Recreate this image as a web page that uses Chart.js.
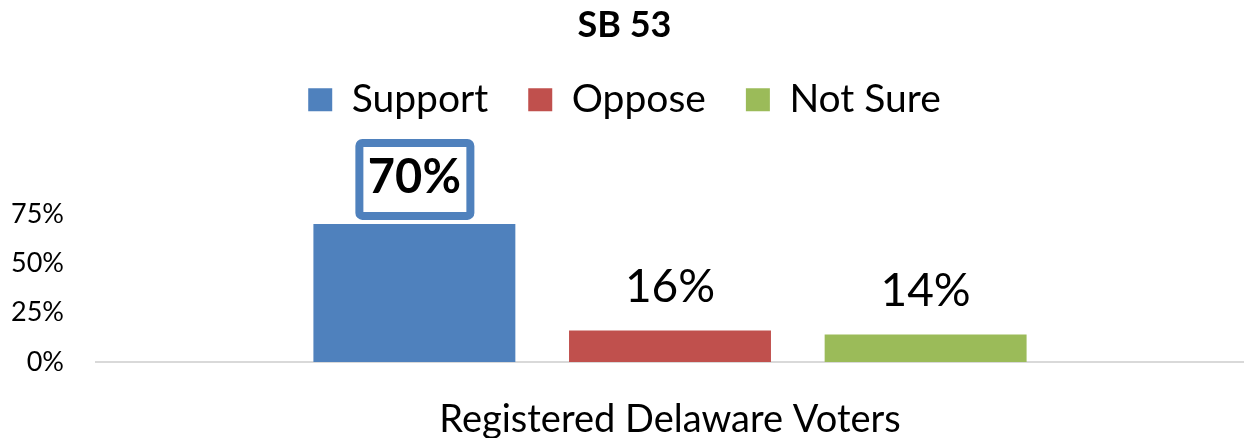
<!DOCTYPE html>
<html>
<head>
<meta charset="utf-8">
<script src="https://cdn.jsdelivr.net/npm/chart.js@4"></script>
<style>
  html, body { margin: 0; padding: 0; background: #fff; }
  #wrap { width: 1244px; height: 438px; }
</style>
</head>
<body>
<div id="wrap"><canvas id="myChart"></canvas></div>
<script>
// data
const categories = ['Registered Delaware Voters'];
const seriesNames = ['Support', 'Oppose', 'Not Sure'];
const supportValues = [70];
const opposeValues = [16];
const notSureValues = [14];
const yTickValues = [0, 25, 50, 75];

const colors = ['#4F81BD', '#C0504D', '#9BBB59'];

Chart.defaults.font.family = 'Lato';
Chart.defaults.color = '#000';

// value labels above the bars, first one bold in a blue box
const barLabels = {
  id: 'barLabels',
  afterDatasetsDraw(chart) {
    const ctx = chart.ctx;
    ctx.save();
    ctx.textAlign = 'center';
    ctx.textBaseline = 'middle';
    chart.data.datasets.forEach(function (ds, i) {
      const bar = chart.getDatasetMeta(i).data[0];
      const txt = ds.data[0] + '%';
      let cy = bar.y - 43;
      if (i == 0) {
        ctx.lineWidth = 8;
        ctx.strokeStyle = colors[0];
        ctx.fillStyle = '#fff';
        ctx.beginPath();
        ctx.roundRect(bar.x - 55, bar.y - 81, 111, 73, 3);
        ctx.fill();
        ctx.stroke();
        ctx.font = 'bold 47px Lato';
        cy = bar.y - 46;
      } else {
        ctx.font = '46px Lato';
      }
      ctx.fillStyle = '#000';
      ctx.fillText(txt, bar.x, cy);
    });
    ctx.restore();
  }
};

new Chart(document.getElementById('myChart'), {
  type: 'bar',
  data: {
    labels: categories,
    datasets: [
      { label: seriesNames[0], data: supportValues, backgroundColor: colors[0] },
      { label: seriesNames[1], data: opposeValues, backgroundColor: colors[1] },
      { label: seriesNames[2], data: notSureValues, backgroundColor: colors[2] }
    ]
  },
  options: {
    responsive: true,
    maintainAspectRatio: false,
    animation: false,
    layout: { padding: { left: 0, right: -5, top: 0, bottom: 0 } },
    datasets: {
      bar: { categoryPercentage: 0.668, barPercentage: 0.79 }
    },
    plugins: {
      title: {
        display: true,
        text: 'SB 53',
        font: { size: 36, weight: 'bold' },
        padding: { top: 4, bottom: -7 }
      },
      legend: {
        labels: {
          boxWidth: 24,
          boxHeight: 23,
          padding: 40,
          font: { size: 39 }
        }
      },
      tooltip: { enabled: false }
    },
    scales: {
      x: {
        grid: { display: false, drawTicks: false },
        border: { display: true, color: '#D9D9D9', width: 2 },
        ticks: { font: { size: 38, lineHeight: 1 }, padding: 39 },
        afterFit(scale) { scale.height = 76; }
      },
      y: {
        min: 0,
        max: 118,
        grid: { display: false, drawTicks: false },
        border: { display: false },
        afterBuildTicks(scale) {
          scale.ticks = yTickValues.map(v => ({ value: v }));
        },
        ticks: {
          font: { size: 27 },
          padding: 32,
          callback: v => v + '%'
        },
        afterFit(scale) { scale.width = 96; }
      }
    }
  },
  plugins: [barLabels]
});
</script>
</body>
</html>
